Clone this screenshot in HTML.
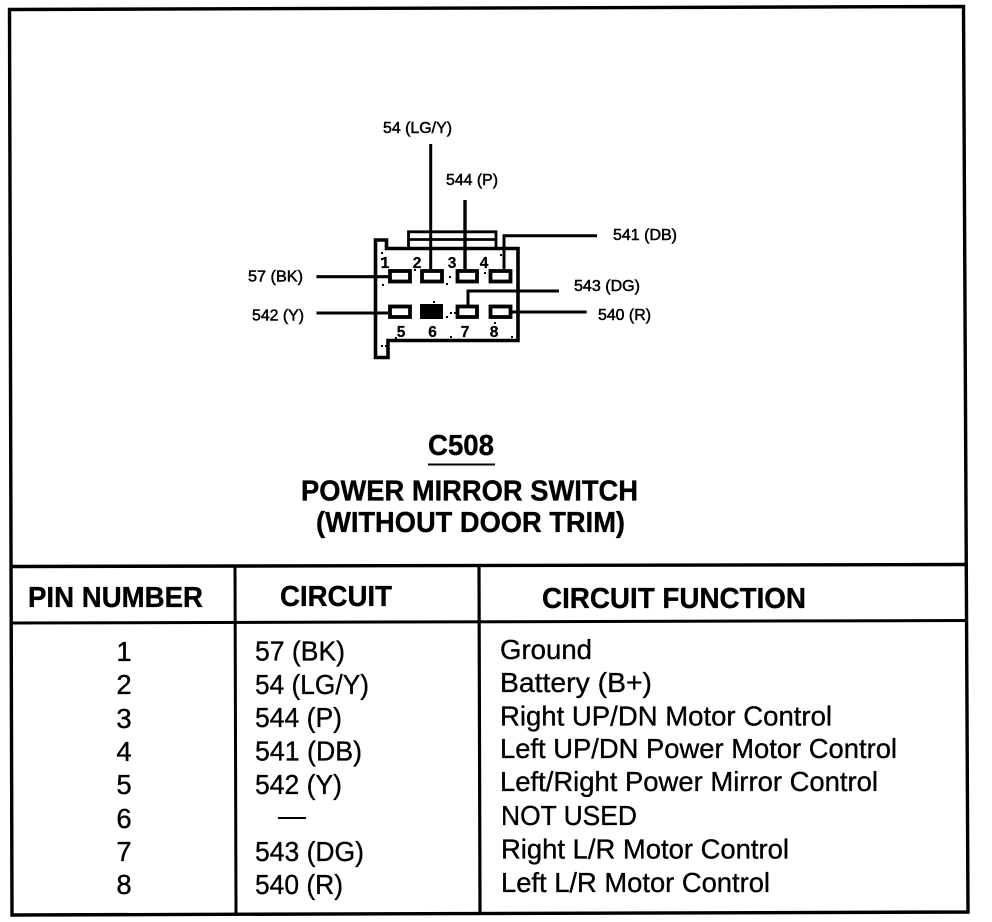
<!DOCTYPE html>
<html>
<head>
<meta charset="utf-8">
<style>
html,body{margin:0;padding:0;background:#fff;}
svg{display:block;}
text{font-family:"Liberation Sans",Arial,sans-serif;fill:#000;}
.b{font-size:27.5px;stroke:#000;stroke-width:.35px;}
.h{font-size:29px;font-weight:bold;stroke:#000;stroke-width:.35px;}
.l{font-size:16px;stroke:#000;stroke-width:.5px;}
.d{font-size:15.5px;font-weight:bold;text-anchor:middle;stroke:#000;stroke-width:.25px;}
.ln{stroke:#000;fill:none;}
</style>
</head>
<body>
<svg width="992" height="922" viewBox="0 0 992 922" xmlns="http://www.w3.org/2000/svg">
<rect width="992" height="922" fill="#fff"/>

<!-- outer frame -->
<path class="ln" stroke-width="3.4" d="M9.5 9.5 L963.5 6.5 L968 912 L12 915 Z"/>
<!-- table rules -->
<path class="ln" stroke-width="3.4" d="M11 566.5 L966 564.5"/>
<path class="ln" stroke-width="3" d="M11 623 L966 620.5"/>
<path class="ln" stroke-width="3" d="M235 566 L236 914"/>
<path class="ln" stroke-width="3.2" d="M479 565 L480 913"/>

<!-- connector -->
<path class="ln" stroke-width="3.6" d="M375.5 240 H386.5 V248.5 H518 V340.5 H388 V357.5 H375.5 Z"/>
<path class="ln" stroke-width="2.8" d="M408.5 248 V231.8 H496 V248 M408.5 239.5 H496"/>
<g class="ln" stroke-width="3.8">
<rect x="390" y="271" width="20" height="10.5"/>
<rect x="422" y="271" width="20" height="10.5"/>
<rect x="457.5" y="271" width="19.5" height="10.5"/>
<rect x="490.5" y="271" width="20" height="10.5"/>
<rect x="390" y="306.5" width="20" height="10.5"/>
<rect x="457.5" y="306.5" width="19.5" height="10.5"/>
<rect x="490.5" y="306.5" width="20" height="10.5"/>
</g>
<rect x="420" y="304" width="23" height="15" fill="#000"/>

<!-- wires -->
<g class="ln" stroke-width="3">
<path d="M430.7 144 V269"/>
<path stroke-width="3.4" d="M465 200 V269"/>
<path d="M597 235.7 H504 V269"/>
<path d="M559 291 H468 V305"/>
<path stroke-width="3.2" d="M316.5 276.7 H388"/>
<path d="M316.5 313 H388"/>
<path d="M512 312 H586.7"/>
</g>

<!-- speckle -->
<g fill="#000">
<rect x="381" y="258" width="2" height="2"/><rect x="446" y="283" width="2" height="2"/>
<rect x="449" y="276" width="2" height="2"/><rect x="484" y="272" width="2" height="2"/>
<rect x="450" y="312" width="2" height="2"/><rect x="454" y="312" width="2" height="2"/>
<rect x="381" y="345" width="2" height="2"/><rect x="385" y="345" width="2" height="2"/>
<rect x="381" y="252" width="2" height="2"/><rect x="500" y="254" width="2" height="2"/>
<rect x="395" y="337" width="2" height="2"/><rect x="450" y="336" width="2" height="2"/>
<rect x="511" y="336" width="2" height="2"/><rect x="494" y="322" width="2" height="2"/>
<rect x="382" y="284" width="2" height="2"/><rect x="414" y="269" width="2" height="2"/>
<rect x="433" y="301" width="2" height="2"/><rect x="446" y="316" width="2" height="2"/>
</g>

<!-- connector labels -->
<text class="l" x="383" y="133" textLength="69" lengthAdjust="spacingAndGlyphs">54 (LG/Y)</text>
<text class="l" x="446" y="185" textLength="52" lengthAdjust="spacingAndGlyphs">544 (P)</text>
<text class="l" x="613" y="240" textLength="64" lengthAdjust="spacingAndGlyphs">541 (DB)</text>
<text class="l" x="574" y="291" textLength="66" lengthAdjust="spacingAndGlyphs">543 (DG)</text>
<text class="l" x="598" y="320" textLength="53" lengthAdjust="spacingAndGlyphs">540 (R)</text>
<text class="l" x="248" y="281.5" textLength="55" lengthAdjust="spacingAndGlyphs">57 (BK)</text>
<text class="l" x="252" y="320.5" textLength="52" lengthAdjust="spacingAndGlyphs">542 (Y)</text>

<!-- pin digits -->
<text class="d" x="385" y="268">1</text>
<text class="d" x="417" y="268">2</text>
<text class="d" x="452" y="268">3</text>
<text class="d" x="484" y="268">4</text>
<text class="d" x="401" y="337">5</text>
<text class="d" x="432.5" y="337">6</text>
<text class="d" x="465" y="337">7</text>
<text class="d" x="494" y="337">8</text>

<!-- titles -->
<text class="h" x="428" y="455" textLength="66" lengthAdjust="spacingAndGlyphs">C508</text>
<rect x="428" y="463.5" width="67" height="2" fill="#000"/>
<text class="h" x="301" y="500.5" textLength="337" lengthAdjust="spacingAndGlyphs">POWER MIRROR SWITCH</text>
<text class="h" x="316" y="532" textLength="309" lengthAdjust="spacingAndGlyphs">(WITHOUT DOOR TRIM)</text>

<!-- table headers -->
<text class="h" x="28" y="607" textLength="175" lengthAdjust="spacingAndGlyphs">PIN NUMBER</text>
<text class="h" x="280" y="606" textLength="112" lengthAdjust="spacingAndGlyphs">CIRCUIT</text>
<text class="h" x="542" y="608" textLength="264" lengthAdjust="spacingAndGlyphs">CIRCUIT FUNCTION</text>

<!-- pin column -->
<g class="b" text-anchor="middle">
<text x="124" y="661">1</text>
<text x="124" y="694">2</text>
<text x="124" y="728">3</text>
<text x="124" y="761">4</text>
<text x="124" y="794">5</text>
<text x="124" y="828">6</text>
<text x="124" y="861">7</text>
<text x="124" y="894">8</text>
</g>

<!-- circuit column -->
<g class="b">
<text x="255" y="660.5" textLength="90" lengthAdjust="spacingAndGlyphs">57 (BK)</text>
<text x="255" y="694" textLength="114" lengthAdjust="spacingAndGlyphs">54 (LG/Y)</text>
<text x="255" y="727" textLength="87" lengthAdjust="spacingAndGlyphs">544 (P)</text>
<text x="255" y="760.5" textLength="107" lengthAdjust="spacingAndGlyphs">541 (DB)</text>
<text x="255" y="794" textLength="87" lengthAdjust="spacingAndGlyphs">542 (Y)</text>
<text x="255" y="861" textLength="109" lengthAdjust="spacingAndGlyphs">543 (DG)</text>
<text x="255" y="894" textLength="88" lengthAdjust="spacingAndGlyphs">540 (R)</text>
</g>
<rect x="278" y="817" width="28" height="2" fill="#000"/>

<!-- function column -->
<g class="b">
<text x="500" y="659" textLength="92" lengthAdjust="spacingAndGlyphs">Ground</text>
<text x="500" y="692" textLength="152" lengthAdjust="spacingAndGlyphs">Battery (B+)</text>
<text x="500" y="725.5" textLength="332" lengthAdjust="spacingAndGlyphs">Right UP/DN Motor Control</text>
<text x="500" y="758" textLength="397" lengthAdjust="spacingAndGlyphs">Left UP/DN Power Motor Control</text>
<text x="500" y="791" textLength="378" lengthAdjust="spacingAndGlyphs">Left/Right Power Mirror Control</text>
<text x="501" y="825" textLength="136" lengthAdjust="spacingAndGlyphs">NOT USED</text>
<text x="501" y="858.5" textLength="288" lengthAdjust="spacingAndGlyphs">Right L/R Motor Control</text>
<text x="501" y="892" textLength="269" lengthAdjust="spacingAndGlyphs">Left L/R Motor Control</text>
</g>
</svg>
</body>
</html>
